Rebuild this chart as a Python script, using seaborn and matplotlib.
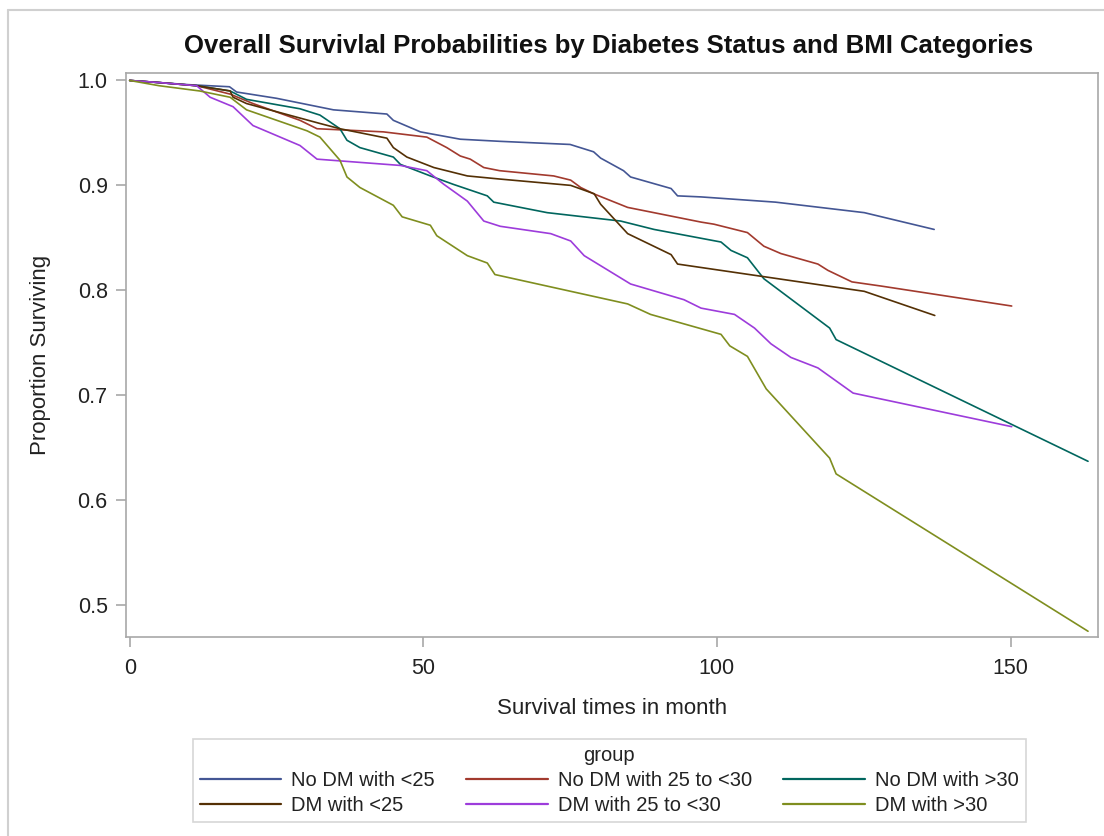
import numpy as np
import pandas as pd
import matplotlib
matplotlib.use("Agg")
import matplotlib.pyplot as plt
from matplotlib.lines import Line2D
import seaborn as sns

groups = ["No DM with <25", "No DM with 25 to <30", "No DM with >30",
          "DM with <25", "DM with 25 to <30", "DM with >30"]

t_nodm_lt25 = [0, 5, 10, 17, 18.2, 25, 34.7, 43.8, 44.9, 49.5, 56.3, 63, 75, 79, 80.2,
               84.1, 85.3, 92.2, 93.3, 97.3, 110, 125.1, 137]
s_nodm_lt25 = [1.0, 0.998, 0.996, 0.994, 0.989, 0.983, 0.972, 0.968, 0.962, 0.951, 0.944,
               0.942, 0.939, 0.932, 0.926, 0.914, 0.908, 0.897, 0.890, 0.889, 0.884, 0.874, 0.858]

t_nodm_25_30 = [0, 5, 11.4, 17.1, 21, 29, 31.9, 43.2, 50.6, 54, 56.3, 58, 60.3, 63, 72.2,
                75.1, 76.8, 79, 84.8, 97.3, 99.5, 105.2, 108, 110.9, 117.2, 118.9, 123, 128, 150.2]
s_nodm_25_30 = [1.0, 0.998, 0.995, 0.987, 0.978, 0.962, 0.954, 0.951, 0.946, 0.936, 0.928,
                0.925, 0.917, 0.914, 0.909, 0.905, 0.898, 0.892, 0.879, 0.865, 0.863, 0.855,
                0.842, 0.835, 0.825, 0.819, 0.808, 0.804, 0.785]

t_nodm_gt30 = [0, 5, 11.4, 17.1, 19.9, 29, 32.4, 35.8, 37, 39.2, 44.9, 46.1, 51.2, 55.1,
               60.9, 62, 71.1, 83.6, 89.3, 100.7, 102.4, 105.2, 108, 119.2, 120.3, 163.2]
s_nodm_gt30 = [1.0, 0.998, 0.995, 0.990, 0.982, 0.973, 0.967, 0.954, 0.943, 0.936, 0.927,
               0.920, 0.909, 0.901, 0.890, 0.884, 0.874, 0.866, 0.858, 0.846, 0.838, 0.831,
               0.811, 0.764, 0.753, 0.637]

t_dm_lt25 = [0, 5, 11.4, 17.1, 17.6, 19.9, 32.4, 35.8, 43.8, 44.9, 47.2, 51.8, 57.5, 63.1,
             75.1, 79.1, 80.2, 84.8, 92.2, 93.3, 125.1, 137.1]
s_dm_lt25 = [1.0, 0.998, 0.995, 0.990, 0.984, 0.978, 0.959, 0.954, 0.945, 0.936, 0.927,
             0.917, 0.909, 0.906, 0.900, 0.892, 0.882, 0.854, 0.834, 0.825, 0.799, 0.776]

t_dm_25_30 = [0, 5, 11.4, 13.7, 17.6, 21, 29, 31.9, 46.1, 50.6, 53.5, 57.5, 60.3, 63.1,
              71.7, 75.1, 77.4, 85.3, 94.4, 97.3, 103, 106.4, 109.2, 112.6, 117.2, 123.2, 150.2]
s_dm_25_30 = [1.0, 0.998, 0.995, 0.984, 0.975, 0.957, 0.938, 0.925, 0.919, 0.914, 0.901,
              0.885, 0.866, 0.861, 0.854, 0.847, 0.833, 0.806, 0.791, 0.783, 0.777, 0.764,
              0.749, 0.736, 0.726, 0.702, 0.670]

t_dm_gt30 = [0, 5, 11.9, 17.1, 19.9, 30.2, 32.4, 34.1, 35.8, 37, 39.2, 44.9, 46.4, 51.2,
             52.3, 57.5, 60.9, 62.2, 84.8, 88.7, 100.7, 102.2, 105.2, 108.4, 119.2, 120.3, 163.2]
s_dm_gt30 = [1.0, 0.995, 0.990, 0.984, 0.972, 0.952, 0.946, 0.935, 0.924, 0.908, 0.898,
             0.881, 0.870, 0.862, 0.852, 0.833, 0.826, 0.815, 0.787, 0.777, 0.758, 0.747,
             0.737, 0.706, 0.640, 0.625, 0.475]

x_ticks = [0, 50, 100, 150]
y_ticks = [0.5, 0.6, 0.7, 0.8, 0.9, 1.0]

colors = ["#445694", "#A23A2E", "#01665E", "#543005", "#9D3CDB", "#7F8E1F"]

series = [(t_nodm_lt25, s_nodm_lt25), (t_nodm_25_30, s_nodm_25_30), (t_nodm_gt30, s_nodm_gt30),
          (t_dm_lt25, s_dm_lt25), (t_dm_25_30, s_dm_25_30), (t_dm_gt30, s_dm_gt30)]
frames = []
for g, (t, s) in zip(groups, series):
    frames.append(pd.DataFrame({"time": t, "surv": s, "group": g}))
df = pd.concat(frames, ignore_index=True)

sns.set_style("white")
plt.rcParams['font.family'] = ['Liberation Sans', 'DejaVu Sans']

W, H = 1104, 836
fig = plt.figure(figsize=(W / 100, H / 100), dpi=100)
ax = fig.add_axes([125.7 / W, 1 - 636.7 / H, (1098 - 125.7) / W, (636.7 - 72.7) / H])

sns.lineplot(data=df, x="time", y="surv", hue="group", hue_order=groups,
             palette=colors, estimator=None, sort=False, linewidth=1.2, ax=ax, legend=False)

ax.set_xlim(-0.68, 164.9)
ax.set_ylim(0.4698, 1.0074)
ax.set_xticks(x_ticks)
ax.set_xticklabels([str(v) for v in x_ticks])
ax.set_yticks(y_ticks)
ax.set_yticklabels([f"{v:.1f}" for v in y_ticks])
ax.tick_params(axis="both", which="major", bottom=True, left=True, direction="out",
               length=7, width=1.2, color="#a8a8a8",
               labelsize=15.5, labelcolor="#222222", pad=6)
ax.tick_params(axis="x", pad=8)
for sp in ax.spines.values():
    sp.set_color("#a8a8a8")
    sp.set_linewidth(1.2)
ax.set_xlabel("Survival times in month", fontsize=16, color="#222222", labelpad=14)
ax.set_ylabel("Proportion Surviving", fontsize=16, color="#222222", labelpad=19)

fig.text(609 / W, 1 - 45.5 / H, "Overall Survivlal Probabilities by Diabetes Status and BMI Categories",
         ha="center", va="center", fontsize=18.5, fontweight="bold", color="#111111")

# outer frame
fig.add_artist(Line2D([8 / W, 8 / W], [0, 1 - 10 / H], transform=fig.transFigure,
                      color="#d0d0d0", linewidth=1.5))
fig.add_artist(Line2D([8 / W, 1], [1 - 10 / H, 1 - 10 / H], transform=fig.transFigure,
                      color="#d0d0d0", linewidth=1.5))

handles = [Line2D([], [], color=c, linewidth=1.6) for c in colors]
order = [0, 3, 1, 4, 2, 5]
lx0, ly0 = 192.7, 739.3
leg = fig.legend([handles[i] for i in order], [groups[i] for i in order], ncol=3,
                 title="group", loc="upper left",
                 bbox_to_anchor=(lx0 / W, 1 - ly0 / H),
                 frameon=True, fancybox=False, fontsize=14.5, title_fontsize=14.5,
                 handlelength=4.05, handletextpad=0.5, borderpad=0.35, labelspacing=0.3,
                 columnspacing=1.55, borderaxespad=0)
leg.get_frame().set_edgecolor("#cccccc")
leg.get_frame().set_linewidth(1.2)
for txt in leg.get_texts():
    txt.set_color("#222222")
leg.get_title().set_color("#222222")

fig.savefig("out.png", dpi=100, facecolor="white")
